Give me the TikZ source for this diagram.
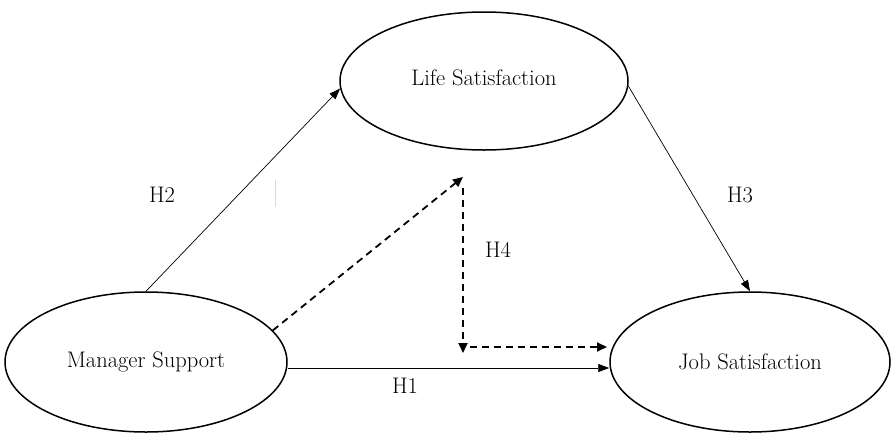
\documentclass[tikz,border=0pt]{standalone}
\usetikzlibrary{shapes.geometric,arrows.meta}
\begin{document}
\begin{tikzpicture}[x=1pt,y=-1pt,
  font=\fontsize{22.5}{26}\selectfont,
  construct/.style={draw, ellipse, line width=1.5pt, inner sep=0pt},
  path/.style={draw, line width=0.7pt, -{Triangle[length=11pt,width=8pt]}},
  dpath/.style={draw, line width=1.8pt, dash pattern=on 7pt off 5pt, -{Triangle[length=10pt,width=9pt]}},
  lbl/.style={inner sep=0pt}]
\useasboundingbox (0,0) rectangle (892,445);
\node[construct, minimum width=288pt, minimum height=138pt] (ls) at (484,81) {};
\node[construct, minimum width=282pt, minimum height=140pt] (ms) at (146,362) {};
\node[construct, minimum width=280pt, minimum height=140pt] (js) at (750,362) {};
\node[lbl] (lst) at (484,78) {Life Satisfaction};
\node[lbl] (mst) at (146,362) {Manager Support};
\node[lbl] (jst) at (750,362) {Job Satisfaction};
\coordinate (d1) at (463,177);
\coordinate (d2) at (463,188);
\coordinate (d3) at (463,353);
\coordinate (d4) at (470,347);
\coordinate (d5) at (607,347);
\coordinate (g1) at (275,180);
\coordinate (g2) at (275,207);
\draw[path] (ms.north) -- (ls.183);
\draw[path] (ls.358) -- (js.north);
\draw[path] ([yshift=-6pt]ms.east) -- ([yshift=-6pt]js.west);
\draw[dpath] (ms.14) -- (d1);
\draw[dpath] (d2) -- (d3);
\draw[dpath] (d4) -- (d5);
\draw[gray!30, line width=0.8pt] (g1) -- (g2);
\node[lbl] (h2) at (162,195) {H2};
\node[lbl] (h3) at (740,195) {H3};
\node[lbl] (h4) at (498,250) {H4};
\node[lbl] (h1) at (405,386) {H1};
\end{tikzpicture}
\end{document}
